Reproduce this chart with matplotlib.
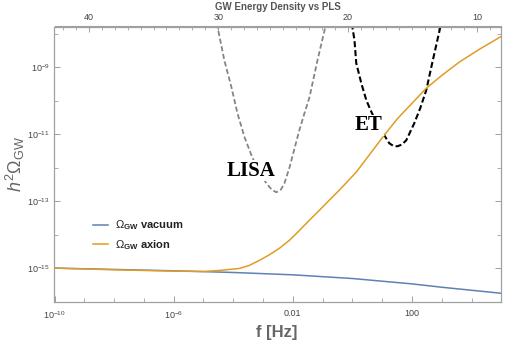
import numpy as np
import matplotlib
matplotlib.use("Agg")
import matplotlib.pyplot as plt
from matplotlib.ticker import FixedLocator, FixedFormatter, LogLocator, MultipleLocator, FormatStrFormatter, NullFormatter

plt.rcParams['font.family'] = ['Liberation Sans', 'DejaVu Sans']
plt.rcParams['mathtext.fontset'] = 'custom'
plt.rcParams['mathtext.rm'] = 'Liberation Sans'
plt.rcParams['mathtext.it'] = 'Liberation Sans:italic'
plt.rcParams['mathtext.bf'] = 'Liberation Sans:bold'

# log10 of frequency [Hz] and log10 of h^2 Omega_GW
vac_logf = [-10, -8, -6, -4, -2, 0, 2, 3, 4, 5]
vac_logO = [-14.99, -15.03, -15.07, -15.12, -15.19, -15.30, -15.46, -15.56, -15.65, -15.74]

ax_logf = [-10, -8, -6, -5, -4.46, -3.79, -3.46, -3.12, -2.78, -2.45, -2.1, -1.78, -1.45,
           -1.11, -0.78, -0.44, 0.13, 0.6, 1.07, 1.5, 2.0, 2.48, 3.0, 3.59, 4.3, 4.97]
ax_logO = [-14.99, -15.04, -15.08, -15.09, -15.06, -15.0, -14.91, -14.76, -14.59, -14.40,
           -14.15, -13.87, -13.57, -13.27, -12.97, -12.67, -12.13, -11.58, -11.03, -10.55,
           -10.08, -9.63, -9.25, -8.85, -8.45, -8.10]

lisa_logf = [-4.55, -4.30, -4.06, -3.86, -3.62, -3.36, -3.12, -2.89, -2.70, -2.55,
             -2.40, -2.28, -2.11, -1.95, -1.78, -1.61, -1.44, -1.17, -0.88]
lisa_logO = [-7.70, -8.79, -9.60, -10.37, -11.09, -11.69, -12.13, -12.46, -12.66, -12.73,
             -12.65, -12.46, -11.99, -11.45, -10.88, -10.38, -9.90, -8.79, -7.70]

et_logf = [-0.02, 0.07, 0.13, 0.30, 0.47, 0.64, 0.84, 1.07, 1.24, 1.38, 1.51, 1.66, 1.81,
           2.08, 2.28, 2.48, 2.68, 2.98]
et_logO = [-7.70, -8.19, -8.88, -9.48, -9.99, -10.34, -10.70, -11.03, -11.27, -11.35,
           -11.36, -11.31, -11.18, -10.67, -10.22, -9.69, -8.88, -7.70]

top_ticks = [40, 30, 20, 10]
N_offset = 19.63  # top axis: N = N_offset - ln f


def p10(a):
    return 10.0 ** np.asarray(a, dtype=float)


fig = plt.figure(figsize=(5.06, 3.44), dpi=100)
ax = fig.add_axes([54.5 / 506, 42 / 344, 446.8 / 506, 275.5 / 344])

ax.plot(p10(vac_logf), p10(vac_logO), color='#5E81B5', lw=1.1,
        label=r'$\Omega_{\mathbf{GW}}$ vacuum')
ax.plot(p10(ax_logf), p10(ax_logO), color='#E19C24', lw=1.1,
        label=r'$\Omega_{\mathbf{GW}}$ axion')
ax.plot(p10(lisa_logf), p10(lisa_logO), color='#858585', lw=1.3,
        dashes=(2.8, 1.5), zorder=1)
ax.plot(p10(et_logf), p10(et_logO), color='black', lw=1.5,
        dashes=(2.9, 1.4), zorder=1)

ax.set_xscale('log')
ax.set_yscale('log')
ax.set_xlim(1e-10, 1e5)
ax.set_ylim(1e-16, 10 ** -7.79)

gray = '#a0a0a0'
for s in ax.spines.values():
    s.set_color(gray)
    s.set_linewidth(0.9)

ax.xaxis.set_major_locator(FixedLocator([1e-10, 1e-6, 1e-2, 1e2]))
ax.xaxis.set_major_formatter(FixedFormatter([r'$10^{-10}$', r'$10^{-6}$', '0.01', '100']))
ax.xaxis.set_minor_locator(LogLocator(base=10, subs=(1.0,), numticks=40))
ax.xaxis.set_minor_formatter(NullFormatter())
ax.yaxis.set_major_locator(FixedLocator([1e-15, 1e-13, 1e-11, 1e-9]))
ax.yaxis.set_minor_locator(FixedLocator([1e-16, 1e-14, 1e-12, 1e-10, 1e-8]))
ax.yaxis.set_minor_formatter(NullFormatter())

ax.tick_params(which='both', direction='in', color=gray, labelcolor='#444444',
               labelsize=6.5, right=True, top=False)
ax.tick_params(which='major', length=4.5, width=0.7)
ax.tick_params(which='minor', length=2.8, width=0.6)
ax.tick_params(axis='x', pad=5)

sec = ax.secondary_xaxis('top', functions=(lambda f: N_offset - np.log(f),
                                            lambda n: np.exp(N_offset - n)))
sec.xaxis.set_major_locator(FixedLocator(top_ticks))
sec.xaxis.set_major_formatter(FormatStrFormatter('%d'))
sec.xaxis.set_minor_locator(MultipleLocator(1))
sec.xaxis.set_minor_formatter(NullFormatter())
sec.tick_params(which='both', direction='in', color=gray, labelcolor='#444444', labelsize=6.5)
sec.tick_params(which='major', length=4.5, width=0.7, pad=3)
sec.tick_params(which='minor', length=2.8, width=0.6)
sec.spines['top'].set_color(gray)

ax.set_xlabel('f [Hz]', fontsize=12, fontweight='bold', color='#666666')
ax.xaxis.set_label_coords(0.498, -0.109)
ax.xaxis.label.set_va('center')
ax.set_ylabel(r'$h^2\Omega_{\rm GW}$', fontsize=13, color='#666666')
ax.yaxis.set_label_coords(-0.088, 0.5)
ax.yaxis.label.set_va('center')

fig.text(278 / 506, 1 - 6.5 / 344, 'GW Energy Density vs PLS', ha='center', va='center',
         fontsize=7, fontweight='bold', color='#555555')

ax.text(10 ** -3.40, 10 ** -12.09, 'LISA', family='Liberation Serif', fontweight='bold',
        fontsize=15, ha='center', va='center', zorder=3,
        bbox=dict(facecolor='white', edgecolor='none', pad=0.5))
ax.text(10 ** 0.56, 10 ** -10.73, 'ET', family='Liberation Serif', fontweight='bold',
        fontsize=15, ha='center', va='center', zorder=3,
        bbox=dict(facecolor='white', edgecolor='none', pad=0.5))

leg = ax.legend(loc='center left', bbox_to_anchor=(0.086, 0.243), frameon=False,
                prop={'size': 8, 'weight': 'bold'}, handlelength=1.35, handletextpad=0.6,
                labelspacing=0.5, borderpad=0, borderaxespad=0)
for t in leg.get_texts():
    t.set_color('#222222')

fig.savefig('out.png', dpi=100)
